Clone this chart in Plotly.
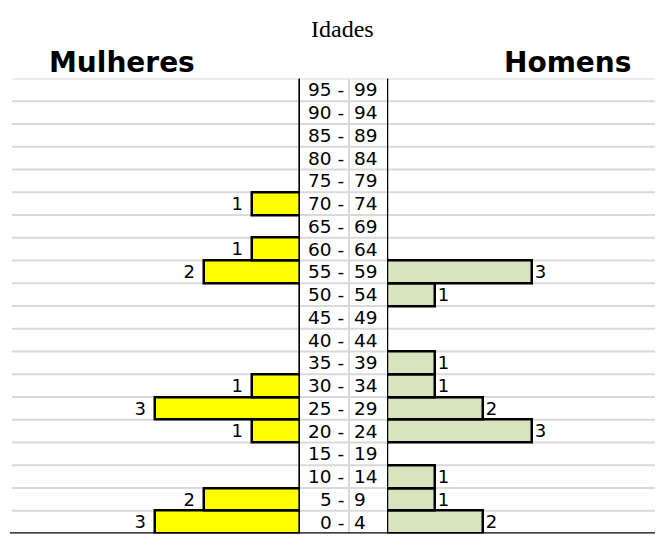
import plotly.graph_objects as go

# Faixas etárias (de baixo para cima)
faixa_ini = [0, 5, 10, 15, 20, 25, 30, 35, 40, 45, 50, 55, 60, 65, 70, 75, 80, 85, 90, 95]
faixa_fim = [4, 9, 14, 19, 24, 29, 34, 39, 44, 49, 54, 59, 64, 69, 74, 79, 84, 89, 94, 99]

# Quantidades por faixa
mulheres = [3, 2, 0, 0, 1, 3, 1, 0, 0, 0, 0, 2, 1, 0, 1, 0, 0, 0, 0, 0]
homens = [2, 1, 1, 0, 3, 2, 1, 1, 0, 0, 1, 3, 0, 0, 0, 0, 0, 0, 0, 0]

# a página tem margem de 8px no body
OFF = 8
W, H = 663 - OFF, 549 - OFF


def px(x):
    return (x - OFF) / W


def py(y):
    return 1 - (y - OFF) / H


top_px, bot_px = 78.5, 533.5
left_end, right_start = 300, 387
px_unit = 48.2

pos = list(range(len(faixa_ini)))
font_lab = "'DejaVu Sans', sans-serif"

fig = go.Figure()

fig.add_trace(go.Bar(
    y=pos, x=mulheres, orientation='h', xaxis='x', yaxis='y',
    width=1,
    marker=dict(color='#ffff00', line=dict(color='black', width=2.5)),
    text=[str(v) + ' ' if v else '' for v in mulheres],
    textposition='outside', cliponaxis=False,
    textfont=dict(family=font_lab, size=18, color='black'),
    showlegend=False, hoverinfo='skip'
))

fig.add_trace(go.Bar(
    y=pos, x=homens, orientation='h', xaxis='x2', yaxis='y',
    width=1,
    marker=dict(color='#d7e4bd', line=dict(color='black', width=2.5)),
    text=[str(v) if v else '' for v in homens],
    textposition='outside', cliponaxis=False,
    textfont=dict(family=font_lab, size=18, color='black'),
    showlegend=False, hoverinfo='skip'
))

shapes = []
# linhas de grade horizontais
for i in pos:
    shapes.append(dict(type='line', xref='paper', yref='y', x0=px(12), x1=1,
                       y0=i + 0.5, y1=i + 0.5, layer='below',
                       line=dict(color='#d9d9d9', width=2)))
# linha vertical cinza no centro
shapes.append(dict(type='line', xref='paper', yref='y', x0=px(349), x1=px(349),
                   y0=-0.5, y1=pos[-1] + 0.5, layer='below',
                   line=dict(color='#d9d9d9', width=2)))
# linhas verticais pretas
shapes.append(dict(type='line', xref='x', yref='y', x0=0, x1=0,
                   y0=-0.5, y1=pos[-1] + 0.5, line=dict(color='black', width=2.5)))
shapes.append(dict(type='line', xref='x2', yref='y', x0=0, x1=0,
                   y0=-0.5, y1=pos[-1] + 0.5, line=dict(color='black', width=2.5)))
# linha de base
shapes.append(dict(type='line', xref='paper', yref='y', x0=px(10), x1=1,
                   y0=-0.5, y1=-0.5, line=dict(color='black', width=2.5)))

annotations = []
for i, (a, b) in enumerate(zip(faixa_ini, faixa_fim)):
    annotations.append(dict(x=px(346), y=i, xref='paper', yref='y', text=f"{a} -",
                            xanchor='right', yanchor='middle', showarrow=False,
                            font=dict(family=font_lab, size=18.5, color='black')))
    annotations.append(dict(x=px(352), y=i, xref='paper', yref='y', text=str(b),
                            xanchor='left', yanchor='middle', showarrow=False,
                            font=dict(family=font_lab, size=18.5, color='black')))

annotations.append(dict(x=px(342), y=py(29), xref='paper', yref='paper', text='Idades',
                        xanchor='center', yanchor='middle', showarrow=False,
                        font=dict(family="'Liberation Serif', serif", size=24, color='black')))
annotations.append(dict(x=px(122), y=py(63), xref='paper', yref='paper', text='<b>Mulheres</b>',
                        xanchor='center', yanchor='middle', showarrow=False,
                        font=dict(family=font_lab, size=28, color='black')))
annotations.append(dict(x=px(567), y=py(63), xref='paper', yref='paper', text='<b>Homens</b>',
                        xanchor='center', yanchor='middle', showarrow=False,
                        font=dict(family=font_lab, size=28, color='black')))

fig.update_layout(
    width=W, height=H,
    margin=dict(l=0, r=0, t=0, b=0),
    plot_bgcolor='white', paper_bgcolor='white',
    bargap=0,
    xaxis=dict(domain=[0, px(left_end)], range=[(left_end - OFF) / px_unit, 0],
               visible=False, fixedrange=True),
    xaxis2=dict(domain=[px(right_start), 1], range=[0, (W + OFF - right_start) / px_unit],
                anchor='y', visible=False, fixedrange=True),
    yaxis=dict(domain=[py(bot_px), py(top_px)], range=[-0.5, len(pos) - 0.5],
               visible=False, fixedrange=True),
    shapes=shapes,
    annotations=annotations,
)

fig.write_html("out.html")
